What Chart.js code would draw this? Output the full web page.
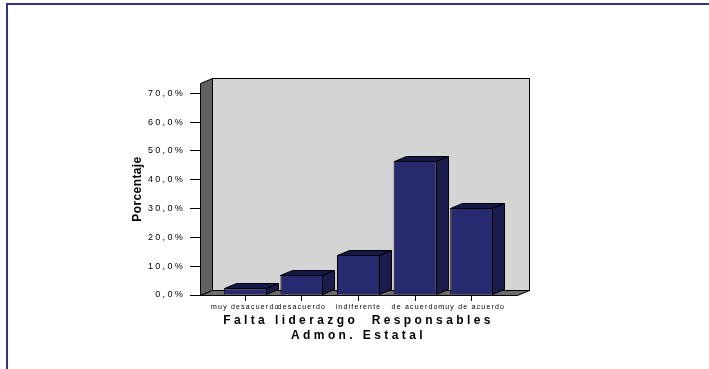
<!DOCTYPE html>
<html>
<head>
<meta charset="utf-8">
<script src="https://cdn.jsdelivr.net/npm/chart.js@4/dist/chart.umd.min.js"></script>
<style>
  html, body { margin: 0; padding: 0; background: #ffffff; }
  #wrap { position: relative; width: 709px; height: 369px; overflow: hidden; }
  #c { position: absolute; left: 0; top: 0; }
  #frame {
    position: absolute; left: 6px; top: 3px; right: -10px; bottom: -10px;
    border-left: 2px solid #34347e; border-top: 2px solid #34347e;
    pointer-events: none;
  }
</style>
</head>
<body>
<div id="wrap">
  <canvas id="c" width="709" height="369" style="width:709px;height:369px"></canvas>
  <div id="frame"></div>
</div>
<script>
// Survey answers and their share of respondents (%)
const categories = ['muy desacuerdo', 'desacuerdo', 'indiferente', 'de acuerdo', 'muy de acuerdo'];
const percentages = [2.3, 7.0, 14.0, 46.5, 30.2];
const yTickValues = [0, 10, 20, 30, 40, 50, 60, 70];
const xTitle = ['Falta liderazgo  Responsables', 'Admon. Estatal'];
const yTitle = 'Porcentaje';

const FONT = "'Liberation Sans', Arial, Helvetica, sans-serif";

// depth of the pseudo-3D box (pixels)
const DX = 12, DY = -5;

// extra tracking for the axis texts
const SPACING = {
  x: { labels: 1.2, title: 3.4 },
  y: { labels: 2.3, title: 0.4 }
};

function poly(ctx, pts, fill) {
  ctx.beginPath();
  ctx.moveTo(pts[0][0], pts[0][1]);
  for (let i = 1; i < pts.length; i++) ctx.lineTo(pts[i][0], pts[i][1]);
  ctx.closePath();
  ctx.fillStyle = fill;
  ctx.fill();
  ctx.stroke();
}

function withSpacing(scale, method, px) {
  const orig = scale[method];
  scale[method] = function (...args) {
    const ctx = this.ctx;
    const prev = ctx.letterSpacing;
    ctx.letterSpacing = px + 'px';
    orig.apply(this, args);
    ctx.letterSpacing = prev;
  };
}

const box3d = {
  id: 'box3d',
  beforeDraw(chart) {
    for (const id of ['x', 'y']) {
      const s = chart.scales[id];
      if (!s || s._spaced) continue;
      s._spaced = true;
      withSpacing(s, 'drawLabels', SPACING[id].labels);
      withSpacing(s, 'drawTitle', SPACING[id].title);
    }
  },
  beforeDatasetsDraw(chart) {
    const ctx = chart.ctx;
    const a = chart.chartArea;
    const l = a.left + 0.5, r = a.right + 0.5, t = a.top + 0.5, b = a.bottom + 0.5;
    ctx.save();
    ctx.lineWidth = 1;
    ctx.strokeStyle = '#000000';
    // back wall
    poly(ctx, [[l + DX, t + DY], [r + DX, t + DY], [r + DX, b + DY], [l + DX, b + DY]], '#d4d4d4');
    // left side wall
    poly(ctx, [[l, t], [l + DX, t + DY], [l + DX, b + DY], [l, b]], '#616161');
    // floor
    poly(ctx, [[l, b], [l + DX, b + DY], [r + DX, b + DY], [r, b]], '#6d6d6d');
    ctx.restore();
  },
  afterDatasetsDraw(chart) {
    const ctx = chart.ctx;
    const meta = chart.getDatasetMeta(0);
    ctx.save();
    ctx.lineWidth = 1;
    ctx.strokeStyle = '#000000';
    meta.data.forEach(bar => {
      const p = bar.getProps(['x', 'y', 'base', 'width'], true);
      const x0 = Math.round(p.x - p.width / 2) + 0.5;
      const x1 = Math.round(p.x + p.width / 2) - 0.5;
      const yt = Math.round(p.y) + 0.5;
      const yb = Math.round(p.base) - 0.5;
      // top face
      poly(ctx, [[x0, yt], [x0 + DX, yt + DY], [x1 + DX, yt + DY], [x1, yt]], '#17174b');
      // right side face
      poly(ctx, [[x1, yt], [x1 + DX, yt + DY], [x1 + DX, yb + DY], [x1, yb]], '#1b1b4c');
    });
    ctx.restore();
  }
};

new Chart(document.getElementById('c'), {
  type: 'bar',
  data: {
    datasets: [{
      data: percentages.map((v, i) => ({ x: i, y: v })),
      backgroundColor: '#282a6f',
      borderColor: '#000000',
      borderWidth: 1,
      barPercentage: 0.76,
      categoryPercentage: 1
    }]
  },
  options: {
    responsive: false,
    devicePixelRatio: 1,
    animation: false,
    events: [],
    layout: { padding: { left: 0, top: 83, right: 192, bottom: 0 } },
    plugins: { legend: { display: false }, tooltip: { enabled: false } },
    scales: {
      x: {
        type: 'linear',
        offset: false,
        min: -0.8,
        max: 4.8,
        afterBuildTicks: s => { s.ticks = categories.map((_, i) => ({ value: i })); },
        afterFit: s => { s.height = 74; },
        ticks: {
          callback: v => categories[v],
          autoSkip: false,
          maxRotation: 0,
          minRotation: 0,
          padding: 2,
          color: '#000000',
          font: { family: FONT, size: 7 }
        },
        grid: { offset: false, drawOnChartArea: false, tickLength: 6, color: '#000000' },
        border: { display: false },
        title: {
          display: true,
          text: xTitle,
          color: '#000000',
          font: { family: FONT, size: 12, weight: 'bold' },
          padding: { top: 0, bottom: 26.4 }
        }
      },
      y: {
        min: 0,
        max: 73.6,
        afterBuildTicks: s => { s.ticks = yTickValues.map(v => ({ value: v })); },
        afterFit: s => { s.width = 200; },
        ticks: {
          callback: v => v.toFixed(1).replace('.', ',') + '%',
          padding: 5,
          color: '#000000',
          font: { family: FONT, size: 9 }
        },
        grid: { drawOnChartArea: false, tickLength: 10, color: '#000000' },
        border: { display: false },
        title: {
          display: true,
          text: yTitle,
          color: '#000000',
          font: { family: FONT, size: 12, weight: 'bold' },
          padding: { top: 130.8, bottom: 0 }
        }
      }
    }
  },
  plugins: [box3d]
});
</script>
</body>
</html>
